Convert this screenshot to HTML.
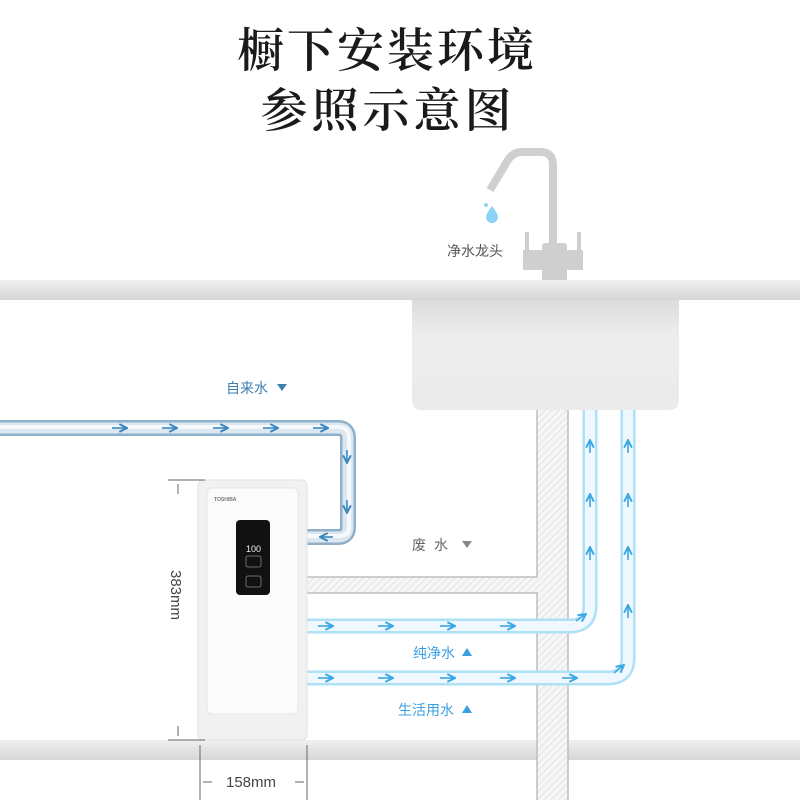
<!DOCTYPE html>
<html><head><meta charset="utf-8"><style>
html,body{margin:0;padding:0;background:#fff;width:800px;height:800px;overflow:hidden}
svg{display:block}
.cjk{font-family:"Liberation Sans","Noto Sans CJK SC",sans-serif}
</style></head><body>
<svg width="800" height="800" viewBox="0 0 800 800" xmlns="http://www.w3.org/2000/svg">
<defs>
<linearGradient id="bar" x1="0" y1="0" x2="0" y2="1"><stop offset="0" stop-color="#f0f0f0"/><stop offset="1" stop-color="#d6d6d6"/></linearGradient>
<linearGradient id="sink" x1="0" y1="0" x2="0" y2="1"><stop offset="0" stop-color="#dcdcdc"/><stop offset="0.3" stop-color="#ececec"/><stop offset="1" stop-color="#ebebeb"/></linearGradient>
<pattern id="hatch" width="5" height="5" patternUnits="userSpaceOnUse" patternTransform="rotate(45)"><rect width="5" height="5" fill="#f6f6f6"/><line x1="0" y1="0" x2="0" y2="5" stroke="#dcdcdc" stroke-width="1.5"/></pattern>
<marker id="ahd" viewBox="0 0 10 10" refX="9" refY="5" markerWidth="6" markerHeight="6" orient="auto"><path d="M1,1 L9,5 L1,9" fill="none" stroke="#3a86bf" stroke-width="2"/></marker>
<marker id="ahl" viewBox="0 0 10 10" refX="9" refY="5" markerWidth="6" markerHeight="6" orient="auto"><path d="M1,1 L9,5 L1,9" fill="none" stroke="#3aa6e3" stroke-width="2"/></marker>
</defs>

<!-- title -->
<text x="387" y="67" text-anchor="middle" font-family="'Noto Serif CJK SC',serif" font-size="47" font-weight="600" fill="#1a1a1a" letter-spacing="3">橱下安装环境</text>
<text x="388" y="127" text-anchor="middle" font-family="'Noto Serif CJK SC',serif" font-size="47" font-weight="600" fill="#1a1a1a" letter-spacing="4">参照示意图</text>

<!-- faucet -->
<path d="M553,275 L553,165 Q553,152 540,152 L522,152 Q513,152 508,160 L490,190" fill="none" stroke="#cfcfcf" stroke-width="8"/>
<g fill="#cfcfcf">
<rect x="523" y="250" width="60" height="20"/>
<rect x="525" y="232" width="4" height="20"/>
<rect x="577" y="232" width="4" height="20"/>
<rect x="542" y="243" width="25" height="10" rx="3"/>
<rect x="542" y="265" width="25" height="16"/>
</g>
<path d="M492,206 Q486,214 486,217 A6,6 0 0 0 498,217 Q498,214 492,206 Z" fill="#8ed3f5"/>
<circle cx="486" cy="205" r="2" fill="#8ed3f5"/>
<text x="447" y="256" class="cjk" font-size="14" fill="#555">净水龙头</text>

<!-- counter bars -->
<rect x="0" y="280" width="800" height="20" fill="url(#bar)"/>
<rect x="0" y="740" width="800" height="20" fill="url(#bar)"/>

<!-- sink -->
<path d="M412,300 L679,300 L679,400 Q679,410 669,410 L422,410 Q412,410 412,400 Z" fill="url(#sink)"/>

<!-- waste pipe -->
<rect x="537" y="410" width="31" height="390" fill="url(#hatch)"/>
<rect x="307" y="577" width="231" height="16" fill="url(#hatch)"/>
<g stroke="#bdbdbd" stroke-width="1.5" fill="none">
<path d="M307,577 L537,577 L537,410"/>
<path d="M307,593 L537,593 L537,800"/>
<path d="M568,410 L568,800"/>
</g>

<!-- tap water pipe -->
<path d="M0,428 L338,428 Q348,428 348,438 L348,527 Q348,537 338,537 L307,537" fill="none" stroke="#8fb0c8" stroke-width="16"/>
<path d="M0,428 L338,428 Q348,428 348,438 L348,527 Q348,537 338,537 L307,537" fill="none" stroke="#dbe8f1" stroke-width="11"/>
<path d="M0,427 L338,427 Q349,427 349,438 L349,527 Q349,536 338,536 L307,536" fill="none" stroke="#f7fafc" stroke-width="4"/>
<g stroke="#3a86bf" stroke-width="1.6" marker-end="url(#ahd)">
<line x1="112" y1="428" x2="127" y2="428"/>
<line x1="162" y1="428" x2="177" y2="428"/>
<line x1="213" y1="428" x2="228" y2="428"/>
<line x1="263" y1="428" x2="278" y2="428"/>
<line x1="313" y1="428" x2="328" y2="428"/>
<line x1="347" y1="450" x2="347" y2="463"/>
<line x1="347" y1="500" x2="347" y2="513"/>
<line x1="333" y1="537" x2="320" y2="537"/>
</g>

<!-- pure water pipes -->
<g fill="none">
<path d="M307,626 L570,626 Q590,626 590,606 L590,410" stroke="#aee0f8" stroke-width="15"/>
<path d="M307,626 L570,626 Q590,626 590,606 L590,410" stroke="#eef8fe" stroke-width="10"/>
<path d="M307,678 L608,678 Q628,678 628,658 L628,410" stroke="#aee0f8" stroke-width="15"/>
<path d="M307,678 L608,678 Q628,678 628,658 L628,410" stroke="#eef8fe" stroke-width="10"/>
</g>
<g stroke="#3aa6e3" stroke-width="1.6" marker-end="url(#ahl)">
<line x1="318" y1="626" x2="333" y2="626"/>
<line x1="378" y1="626" x2="393" y2="626"/>
<line x1="440" y1="626" x2="455" y2="626"/>
<line x1="500" y1="626" x2="515" y2="626"/>
<line x1="576" y1="621" x2="586" y2="614"/>
<line x1="590" y1="560" x2="590" y2="547"/>
<line x1="590" y1="507" x2="590" y2="494"/>
<line x1="590" y1="453" x2="590" y2="440"/>
<line x1="318" y1="678" x2="333" y2="678"/>
<line x1="378" y1="678" x2="393" y2="678"/>
<line x1="440" y1="678" x2="455" y2="678"/>
<line x1="500" y1="678" x2="515" y2="678"/>
<line x1="562" y1="678" x2="577" y2="678"/>
<line x1="614" y1="673" x2="624" y2="665"/>
<line x1="628" y1="618" x2="628" y2="605"/>
<line x1="628" y1="560" x2="628" y2="547"/>
<line x1="628" y1="507" x2="628" y2="494"/>
<line x1="628" y1="453" x2="628" y2="440"/>
</g>

<!-- labels -->
<text x="226" y="393" class="cjk" font-size="14" fill="#3c7fb3">自来水</text>
<path d="M277,384 L287,384 L282,391 Z" fill="#3c7fb3"/>
<text x="412" y="550" class="cjk" font-size="14" fill="#666" letter-spacing="8">废水</text>
<path d="M462,541 L472,541 L467,548 Z" fill="#888"/>
<text x="413" y="658" class="cjk" font-size="14" fill="#3a9fe0">纯净水</text>
<path d="M462,656 L472,656 L467,648 Z" fill="#3a9fe0"/>
<text x="398" y="715" class="cjk" font-size="14" fill="#3a9fe0">生活用水</text>
<path d="M462,713 L472,713 L467,705 Z" fill="#3a9fe0"/>

<!-- device -->
<rect x="198" y="480" width="109" height="260" rx="5" fill="#f1f1f1" stroke="#e2e2e2"/>
<rect x="207" y="488" width="91" height="226" rx="5" fill="#fbfbfb" stroke="#e6e6e6"/>
<text x="214" y="501" font-family="'Liberation Sans',sans-serif" font-size="5" font-weight="700" fill="#777">TOSHIBA</text>
<rect x="236" y="520" width="34" height="75" rx="4" fill="#111"/>
<text x="246" y="552" font-family="'Liberation Sans',sans-serif" font-size="9" fill="#eee">100</text>
<rect x="246" y="556" width="15" height="11" rx="2" fill="none" stroke="#888" stroke-width="0.8"/>
<rect x="246" y="576" width="15" height="11" rx="2" fill="none" stroke="#888" stroke-width="0.8"/>

<!-- dimensions -->
<g stroke="#666" stroke-width="1">
<line x1="168" y1="480" x2="205" y2="480"/>
<line x1="168" y1="740" x2="205" y2="740"/>
<line x1="178" y1="484" x2="178" y2="494"/>
<line x1="178" y1="726" x2="178" y2="736"/>
<line x1="200" y1="745" x2="200" y2="800"/>
<line x1="307" y1="745" x2="307" y2="800"/>
<line x1="203" y1="782" x2="212" y2="782"/>
<line x1="295" y1="782" x2="304" y2="782"/>
</g>
<text x="226" y="787" font-family="'Liberation Sans',sans-serif" font-size="15" fill="#444">158mm</text>
<text transform="translate(171,570) rotate(90)" font-family="'Liberation Sans',sans-serif" font-size="15" fill="#444">383mm</text>
</svg>
</body></html>
